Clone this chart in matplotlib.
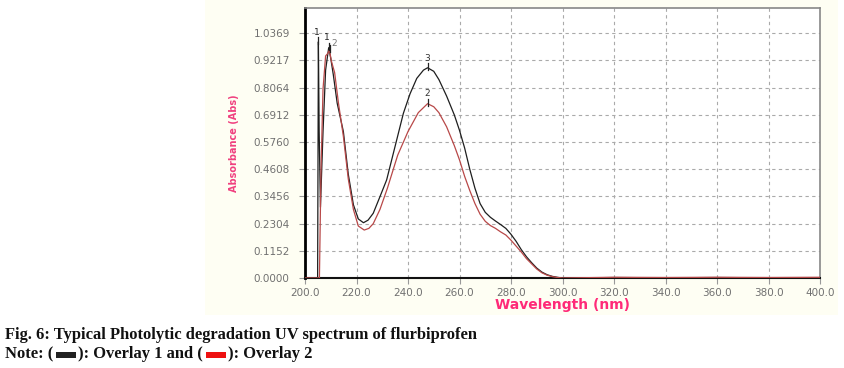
import numpy as np
import matplotlib
matplotlib.use('Agg')
import matplotlib.pyplot as plt
from matplotlib.patches import Rectangle

# Overlay 1 (black) - wavelength (nm) / absorbance
wl_1 = [200, 204.9, 205.2, 205.5, 206.0, 207.0, 208.0, 209.2, 210.0, 211.0, 212.5,
        214.9, 216.8, 218.8, 220.7, 222.7, 224.5, 226.5, 229.1, 231.7, 235.6, 238.2,
        240.8, 243.4, 246.0, 247.6, 250, 252, 255, 258, 260, 262, 264, 266, 268,
        270, 272, 274, 276, 278, 280, 282, 284, 286, 288, 290, 292, 294, 296, 298,
        300, 320, 340, 360, 380, 400]
abs_1 = [0.0, 0.0, 1.0, 0.62, 0.30, 0.62, 0.88, 0.975, 0.93, 0.86, 0.74,
         0.62, 0.44, 0.31, 0.25, 0.234, 0.245, 0.274, 0.344, 0.415, 0.584, 0.697,
         0.78, 0.845, 0.88, 0.89, 0.875, 0.84, 0.77, 0.69, 0.625, 0.55, 0.46, 0.38, 0.315,
         0.278, 0.257, 0.241, 0.226, 0.21, 0.185, 0.155, 0.12, 0.09, 0.065, 0.042, 0.025,
         0.014, 0.007, 0.003, 0.0, 0.002, 0.001, 0.002, 0.001, 0.0]

# Overlay 2 (red)
wl_2 = [200, 205.6, 206.2, 207.0, 208.0, 208.8, 209.5, 210.2, 211.5, 213.0,
        214.9, 216.8, 218.8, 220.7, 223.0, 224.8, 226.5, 229.1, 232, 236, 240,
        244, 247.6, 250, 252, 255, 258, 260, 262, 264, 266, 268, 270, 272, 274,
        276, 278, 280, 282, 284, 286, 288, 290, 292, 294, 296, 298, 300, 320,
        340, 360, 380, 400]
abs_2 = [0.0, 0.0, 0.45, 0.80, 0.94, 0.95, 0.965, 0.92, 0.87, 0.74,
         0.60, 0.42, 0.29, 0.22, 0.203, 0.21, 0.23, 0.29, 0.38, 0.52, 0.62,
         0.70, 0.738, 0.725, 0.70, 0.64, 0.56, 0.50, 0.43, 0.37, 0.315, 0.27, 0.24,
         0.222, 0.21, 0.195, 0.182, 0.16, 0.135, 0.11, 0.082, 0.06, 0.038, 0.022,
         0.012, 0.006, 0.002, 0.0, 0.003, 0.002, 0.003, 0.002, 0.003]

yticks = [0.0, 0.1152, 0.2304, 0.3456, 0.4608, 0.5760, 0.6912, 0.8064, 0.9217, 1.0369]
xticks = [200, 220, 240, 260, 280, 300, 320, 340, 360, 380, 400]

# peak markers: (wavelength, absorbance, label, colour, label x offset)
peaks = [(205.2, 1.0, '1', '#222222', -0.6), (209.2, 0.975, '1', '#222222', -0.6),
         (209.9, 0.965, '2', '#777777', 1.4), (247.6, 0.89, '3', '#333333', 0),
         (247.6, 0.738, '2', '#333333', 0)]

fig = plt.figure(figsize=(8.44, 3.68), dpi=100)
fig.patches.append(Rectangle((205 / 844, 1 - 315 / 368), 633 / 844, 315 / 368,
                             transform=fig.transFigure, facecolor='#fefef3',
                             edgecolor='none', zorder=-10))

ax = fig.add_axes([305 / 844, 1 - 278 / 368, 515 / 844, 270 / 368])
ax.set_facecolor('white')

ax.plot(wl_1, abs_1, color='#1e1e1e', lw=0.9, zorder=3)
ax.plot(wl_2, abs_2, color='#b84848', lw=0.9, zorder=4)

for x, y, lab, c, dx in peaks:
    ax.plot([x, x], [y - 0.01, y + 0.02], color='#222222', lw=0.9, zorder=5)
    ax.text(x + dx, y + 0.022 - (0.012 if dx > 0 else 0), lab,
            fontsize=6.5, color=c, ha='center', va='bottom', zorder=6)

ax.set_xlim(200, 400)
ax.set_ylim(0, 1.143)
ax.set_xticks(xticks)
ax.set_yticks(yticks)
ax.set_xticklabels(['%.1f' % t for t in xticks])
ax.set_yticklabels(['%.4f' % t for t in yticks])
ax.tick_params(labelsize=7.5, labelcolor='#707070', color='#999999', length=4, width=0.8)
ax.tick_params(axis='y', pad=7)
ax.grid(True, color='#aaaaaa', ls=(0, (3, 3)), lw=0.8)

ax.spines['left'].set_linewidth(2)
ax.spines['left'].set_color('black')
ax.spines['bottom'].set_linewidth(1.5)
ax.spines['bottom'].set_color('#111111')
for s in ['top', 'right']:
    ax.spines[s].set_color('#888888')
    ax.spines[s].set_linewidth(1.2)

ax.set_ylabel('Absorbance (Abs)', fontsize=7, color='#f0407f', fontweight='bold',
              family=['Liberation Sans Narrow', 'DejaVu Sans'], labelpad=10)
ax.set_xlabel('Wavelength (nm)', fontsize=10, color='#ff2a78', fontweight='bold', labelpad=0)

# caption
cap = dict(family=['Liberation Serif', 'DejaVu Serif'], fontweight='bold', fontsize=11.9,
           color='#111111')
fig.text(5 / 844, 1 - 335 / 368, 'Fig. 6: Typical Photolytic degradation UV spectrum of flurbiprofen',
         va='center', ha='left', **cap)

r = fig.canvas.get_renderer()
y_note = 1 - 354 / 368
x_px = 5
parts = [('Note: (', None), ('', '#222222'), ('): Overlay 1 and (', None), ('', '#ee1111'), ('): Overlay 2', None)]
for txt, col in parts:
    if col is None:
        t = fig.text(x_px / 844, y_note, txt, va='center', ha='left', **cap)
        x_px += t.get_window_extent(r).width
    else:
        fig.patches.append(Rectangle(((x_px + 3) / 844, 1 - 358 / 368), 20 / 844, 6 / 368,
                                     transform=fig.transFigure, facecolor=col, edgecolor='none'))
        x_px += 25

fig.savefig('out.png', dpi=100)
